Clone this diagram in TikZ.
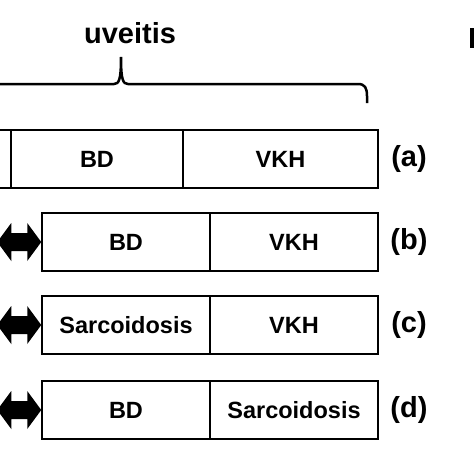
\documentclass[tikz,border=0pt]{standalone}
\usepackage{fontspec}
\setmainfont{Liberation Sans}
\begin{document}
\begin{tikzpicture}[x=1pt,y=-1pt,
  cell/.style={draw=black, line width=1.5pt, fill=white, inner sep=0pt,
    minimum height=58pt, font=\fontsize{23.5}{26}\selectfont\bfseries},
  lbl/.style={inner sep=0pt, font=\fontsize{29}{32}\selectfont\bfseries},
  bracepath/.style={draw=black, line width=2.5pt},
  dblarrow/.style={fill=black}]
\useasboundingbox (0,0) rectangle (474,474);
\clip (0,0) rectangle (474,474);
% title and brace
\node[lbl] (title) at (130,33) {uveitis};
\coordinate (bl) at (-10,84);
\coordinate (br) at (367,103);
\draw[bracepath] (bl) -- (114,84) .. controls (119,84) and (121,80) .. (121,57)
  .. controls (121,80) and (123,84) .. (128,84) -- (358,84)
  .. controls (365,84) and (367,88) .. (367,96) -- (br);
% partial glyph at right edge
\fill[black] (470,28) rectangle (476,48);
% row a
\node[cell, minimum width=80pt] (a0) at (-29,159) {};
\node[cell, minimum width=172pt] (a1) at (97,159) {BD};
\node[cell, minimum width=195pt] (a2) at (280.5,159) {VKH};
\node[lbl] (la) at (409,159) {(a)};
% row b
\node[cell, minimum width=168pt] (b1) at (126,242) {BD};
\node[cell, minimum width=168pt] (b2) at (294,242) {VKH};
\node[lbl] (lb) at (409,242) {(b)};
% row c
\node[cell, minimum width=168pt] (c1) at (126,325) {Sarcoidosis};
\node[cell, minimum width=168pt] (c2) at (294,325) {VKH};
\node[lbl] (lc) at (409,325) {(c)};
% row d
\node[cell, minimum width=168pt] (d1) at (126,410) {BD};
\node[cell, minimum width=168pt] (d2) at (294,410) {Sarcoidosis};
\node[lbl] (ld) at (409,410) {(d)};
% double arrows
\foreach \n in {b1,c1,d1}{
  \fill[dblarrow] (\n.west) -- ++(-14,-19) -- ++(0,10) -- ++(-16,0) -- ++(0,-10)
    -- ++(-14,19) -- ++(14,19) -- ++(0,-10) -- ++(16,0) -- ++(0,10) -- cycle;
}
\end{tikzpicture}
\end{document}
